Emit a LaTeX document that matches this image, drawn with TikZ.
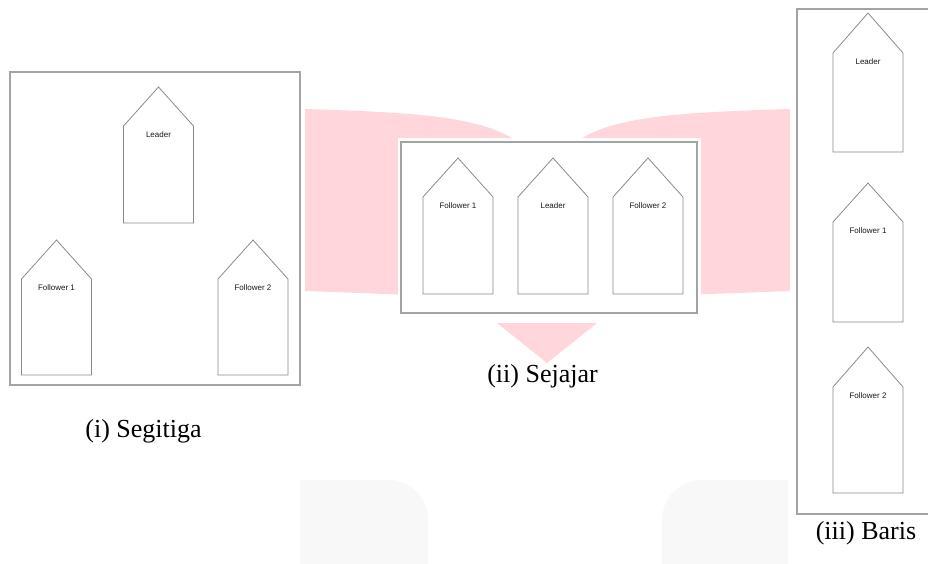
\documentclass[tikz,border=0pt]{standalone}
\usepackage{fontspec}
\setmainfont{Liberation Serif}
\newfontfamily\labelfont{Liberation Sans}
\usetikzlibrary{positioning}
\definecolor{wmpink}{HTML}{FFD6DB}
\definecolor{wmgray}{HTML}{F8F8F8}
\definecolor{linegray}{HTML}{8A8A8A}
\definecolor{framegray}{HTML}{A3A3A3}

% one robot: name, centre x, apex y, shoulder y, bottom y, text
\newcommand{\robot}[6]{%
  \draw[robotshape] (#2-35,#5) -- (#2-35,#4) -- (#2,#3) -- (#2+35,#4) -- (#2+35,#5) -- cycle;
  \node[tag] (#1) at (#2,#4+9) {#6};}

\begin{document}
\begin{tikzpicture}[
  x=1pt, y=-1pt,
  frame/.style={draw=framegray, line width=1.3pt, fill=white},
  robotshape/.style={draw=linegray, line width=0.8pt, fill=white, line join=miter},
  tag/.style={font=\labelfont\fontsize{8}{9}\selectfont, text=black!90, inner sep=0pt},
  caption/.style={font=\fontsize{26}{30}\selectfont, inner sep=0pt},
]
\useasboundingbox (0,0) rectangle (928,563);
\clip (0,0) rectangle (928,563);

% watermark behind
\fill[wmpink] (305,109) .. controls (400,112) and (450,115) .. (490,128)
  .. controls (515,137) and (530,150) .. (547,158)
  .. controls (564,150) and (579,137) .. (604,128)
  .. controls (644,115) and (694,112) .. (790,109)
  -- (790,291) -- (547,300) -- (305,291) -- cycle;
\fill[wmpink] (497,323) -- (597,323) -- (547,363) -- cycle;
\fill[wmgray] (300,600) -- (300,480) [rounded corners=40pt] -- (428,480) -- (428,600);
\fill[wmgray] (788,600) -- (788,480) [rounded corners=40pt] -- (662,480) -- (662,600);

% (i) Segitiga
\draw[frame] (10,72) rectangle (300,385);
\robot{ldrA}{158.5}{87}{126}{223}{Leader}
\robot{fwaA}{56.5}{240}{279}{375}{Follower 1}
\robot{fwbA}{253}{240}{279}{375}{Follower 2}
\node[caption] (capA) at (143.5,431) {(i) Segitiga};

% (ii) Sejajar
\fill[white] (398,138) rectangle (701,317);
\draw[frame] (401,142) rectangle (697,313);
\robot{fwaB}{458}{158}{197}{294}{Follower 1}
\robot{ldrB}{553}{158}{197}{294}{Leader}
\robot{fwbB}{648}{158}{197}{294}{Follower 2}
\node[caption] (capB) at (542.5,376.5) {(ii) Sejajar};

% (iii) Baris
\draw[frame] (797,9) rectangle (940,514);
\robot{ldrC}{868}{13}{53}{152}{Leader}
\robot{fwaC}{868}{183}{222}{322}{Follower 1}
\robot{fwbC}{868}{347}{387}{493}{Follower 2}
\node[caption] (capC) at (866,533) {(iii) Baris};
\end{tikzpicture}
\end{document}
